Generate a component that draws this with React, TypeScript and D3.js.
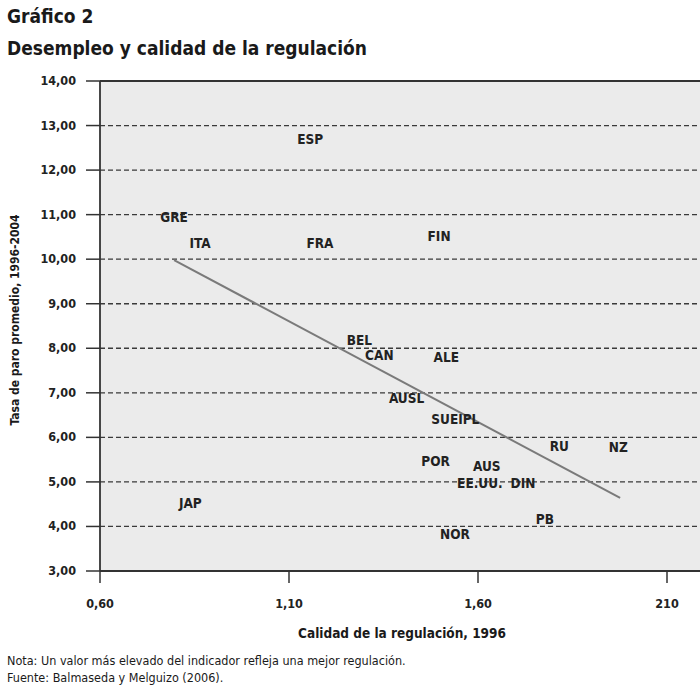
import React from 'react';
import * as d3 from 'd3';

const xTicks = [0.6, 1.1, 1.6, 2.1];
const xTickLabels = ['0,60', '1,10', '1,60', '210'];
const yTicks = [3, 4, 5, 6, 7, 8, 9, 10, 11, 12, 13, 14];

const countries = ['ESP', 'GRE', 'ITA', 'FRA', 'FIN', 'BEL', 'CAN', 'ALE', 'AUSL', 'SUEIPL', 'RU', 'NZ', 'POR', 'AUS', 'EE.UU.', 'DIN', 'PB', 'NOR', 'JAP'];
const quality = [1.156, 0.796, 0.865, 1.182, 1.497, 1.286, 1.339, 1.516, 1.411, 1.54, 1.815, 1.971, 1.488, 1.623, 1.605, 1.719, 1.777, 1.539, 0.839];
const unemployment = [12.7, 10.95, 10.36, 10.36, 10.52, 8.19, 7.85, 7.8, 6.88, 6.41, 5.81, 5.78, 5.47, 5.36, 4.98, 4.98, 4.17, 3.83, 4.53];

// trend line end points (regulation quality, unemployment)
const trendX = [0.796, 1.976];
const trendY = [9.98, 4.64];

const FONT = "'DejaVu Sans Condensed', 'Liberation Sans Narrow', 'Roboto', sans-serif";

export default function App() {
  const width = 700;
  const height = 690;
  const x = d3.scaleLinear().domain([0.6, 2.1]).range([100, 667]);
  const y = d3.scaleLinear().domain([3, 14]).range([571, 81]);
  const right = 700;
  const line = d3.line<number>().x((d) => x(trendX[d])).y((d) => y(trendY[d]));

  return (
    <svg width={width} height={height} style={{ position: 'absolute', left: 0, top: 0, background: '#fff' }} fontFamily={FONT} fontStretch="condensed">
      <text x={7} y={23} fontSize={19} fontWeight="bold" fill="#1a1a1a">Gráfico 2</text>
      <text x={7} y={55} fontSize={19} fontWeight="bold" fill="#1a1a1a">Desempleo y calidad de la regulación</text>

      <rect x={x(0.6)} y={y(14)} width={right - x(0.6)} height={y(3) - y(14)} fill="#ebebeb" />

      {yTicks.map((t) => (
        <g key={t}>
          {t > 3 && t < 14 && (
            <line x1={x(0.6)} x2={right} y1={y(t)} y2={y(t)} stroke="#3a3a3a" strokeWidth={1.3} strokeDasharray="5,3" />
          )}
          <line x1={86} x2={x(0.6)} y1={y(t)} y2={y(t)} stroke="#333" strokeWidth={1.5} />
          <text x={76} y={y(t) + 4} textAnchor="end" fontSize={12.5} fontWeight="bold" fill="#222">
            {d3.format('.2f')(t).replace('.', ',')}
          </text>
        </g>
      ))}

      <line x1={x(0.6)} x2={right} y1={y(14)} y2={y(14)} stroke="#333" strokeWidth={1.8} />
      <line x1={x(0.6)} x2={right} y1={y(3)} y2={y(3)} stroke="#333" strokeWidth={1.8} />
      <line x1={x(0.6)} x2={x(0.6)} y1={y(14)} y2={y(3)} stroke="#333" strokeWidth={1.8} />

      {xTicks.map((t, i) => (
        <g key={t}>
          <line x1={x(t)} x2={x(t)} y1={y(3)} y2={y(3) + 12} stroke="#333" strokeWidth={1.5} />
          <text x={x(t)} y={y(3) + 37} textAnchor="middle" fontSize={12.5} fontWeight="bold" fill="#222">
            {xTickLabels[i]}
          </text>
        </g>
      ))}

      <path d={line([0, 1]) || ''} fill="none" stroke="#7a7a7a" strokeWidth={2} />

      {countries.map((c, i) => (
        <text key={c} x={x(quality[i])} y={y(unemployment[i]) + 5} textAnchor="middle" fontSize={13.5} fontWeight="bold" fill="#222">
          {c}
        </text>
      ))}

      <text x={402} y={638} textAnchor="middle" fontSize={13.5} fontWeight="bold" fill="#1a1a1a">Calidad de la regulación, 1996</text>
      <text transform={`translate(19,320) rotate(-90)`} textAnchor="middle" fontSize={12} fontWeight="bold" fill="#1a1a1a">
        Tasa de paro promedio, 1996-2004
      </text>

      <text x={7} y={665} fontSize={12.5} fill="#1a1a1a">Nota: Un valor más elevado del indicador refleja una mejor regulación.</text>
      <text x={7} y={682} fontSize={12.5} fill="#1a1a1a">Fuente: Balmaseda y Melguizo (2006).</text>
    </svg>
  );
}
